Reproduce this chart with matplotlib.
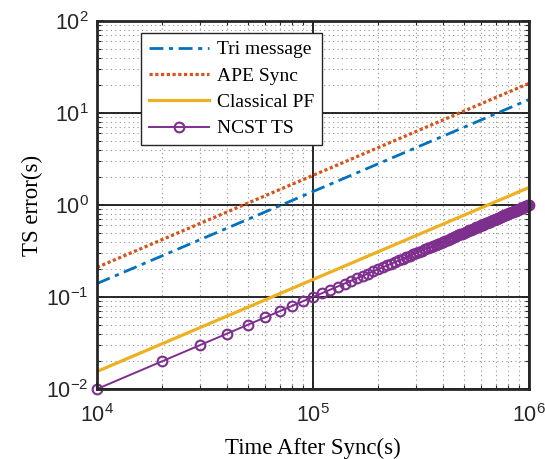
import numpy as np
import matplotlib
matplotlib.use("Agg")
import matplotlib.pyplot as plt

plt.rcParams["font.family"] = ["Liberation Serif", "DejaVu Serif"]
plt.rcParams["axes.unicode_minus"] = False

# end points of the straight reference curves (log-log, slope 1)
line_time = [1e4, 1e6]
tri_err = [0.14, 14.0]
ape_err = [0.21, 21.0]
pf_err = [0.0155, 1.55]

# NCST TS samples, time in units of 1e4 s
ncst_time_e4 = [1, 2, 3, 4, 5, 6, 7, 8, 9, 10,
                11, 12, 13, 14, 15, 16, 17, 18, 19, 20,
                21, 22, 23, 24, 25, 26, 27, 28, 29, 30,
                31, 32, 33, 34, 35, 36, 37, 38, 39, 40,
                41, 42, 43, 44, 45, 46, 47, 48, 49, 50,
                51, 52, 53, 54, 55, 56, 57, 58, 59, 60,
                61, 62, 63, 64, 65, 66, 67, 68, 69, 70,
                71, 72, 73, 74, 75, 76, 77, 78, 79, 80,
                81, 82, 83, 84, 85, 86, 87, 88, 89, 90,
                91, 92, 93, 94, 95, 96, 97, 98, 99, 100]
ncst_err = [0.01, 0.02, 0.03, 0.04, 0.05, 0.06, 0.07, 0.08, 0.09, 0.10,
            0.11, 0.12, 0.13, 0.14, 0.15, 0.16, 0.17, 0.18, 0.19, 0.20,
            0.21, 0.22, 0.23, 0.24, 0.25, 0.26, 0.27, 0.28, 0.29, 0.30,
            0.31, 0.32, 0.33, 0.34, 0.35, 0.36, 0.37, 0.38, 0.39, 0.40,
            0.41, 0.42, 0.43, 0.44, 0.45, 0.46, 0.47, 0.48, 0.49, 0.50,
            0.51, 0.52, 0.53, 0.54, 0.55, 0.56, 0.57, 0.58, 0.59, 0.60,
            0.61, 0.62, 0.63, 0.64, 0.65, 0.66, 0.67, 0.68, 0.69, 0.70,
            0.71, 0.72, 0.73, 0.74, 0.75, 0.76, 0.77, 0.78, 0.79, 0.80,
            0.81, 0.82, 0.83, 0.84, 0.85, 0.86, 0.87, 0.88, 0.89, 0.90,
            0.91, 0.92, 0.93, 0.94, 0.95, 0.96, 0.97, 0.98, 0.99, 1.00]

labels = ["Tri message", "APE Sync", "Classical PF", "NCST TS"]
colors = ["#0072BD", "#D95319", "#EDB120", "#7E2F8E"]

fig = plt.figure(figsize=(5.45, 4.59), dpi=100)
ax = fig.add_axes([97 / 545, 1 - 389 / 459, 432 / 545, 368 / 459])

ax.plot(line_time, tri_err, color=colors[0], lw=2, ls=(0, (5, 2, 1.5, 2)), label=labels[0])
ax.plot(line_time, ape_err, color=colors[1], lw=2.3, ls=(0, (1, 0.8)), label=labels[1])
ax.plot(line_time, pf_err, color=colors[2], lw=2.3, label=labels[2])
ax.plot(np.array(ncst_time_e4) * 1e4, ncst_err, color=colors[3], lw=1.4,
        marker="o", ms=7, mfc="none", mew=1.5, label=labels[3], clip_on=False)

ax.set_xscale("log")
ax.set_yscale("log")
ax.set_xlim(1e4, 1e6)
ax.set_ylim(1e-2, 1e2)

ax.grid(True, which="major", color="#262626", lw=1.4, ls="-")
ax.grid(True, which="minor", color="#666666", lw=0.8, ls=(0, (1, 3)), alpha=0.7)
ax.set_axisbelow(True)

for s in ax.spines.values():
    s.set_linewidth(2)
    s.set_color("#262626")

ax.tick_params(which="both", direction="in", top=True, right=True, colors="#262626")
ax.tick_params(which="major", length=5, width=1.2, labelsize=15.5,
               labelfontfamily="Liberation Sans")
ax.tick_params(axis="y", which="major", pad=6)
ax.tick_params(axis="x", which="major", pad=11)
ax.tick_params(which="minor", length=3, width=0.8)

ax.set_xlabel("Time After Sync(s)", fontsize=16.5, labelpad=8)
ax.set_ylabel("TS error(s)", fontsize=16.5, labelpad=2)

leg = ax.legend(loc="upper left", bbox_to_anchor=(141 / 545, 1 - 33 / 459),
                bbox_transform=fig.transFigure, borderaxespad=0, fontsize=14,
                handlelength=3.1, labelspacing=0.45, fancybox=False,
                framealpha=1, edgecolor="#262626", borderpad=0.4,
                handletextpad=0.4)
leg.get_frame().set_linewidth(1)

fig.savefig("out.png", dpi=100)
